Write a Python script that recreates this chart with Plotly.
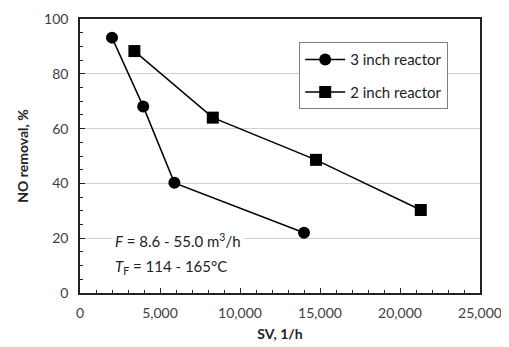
import plotly.graph_objects as go

sv_3inch = [2000, 3950, 5900, 14000]
no_3inch = [93.2, 68.1, 40.2, 22.0]
sv_2inch = [3400, 8300, 14750, 21300]
no_2inch = [88.3, 64.0, 48.6, 30.3]
x_ticks = [0, 5000, 10000, 15000, 20000, 25000]
x_ticklabels = ["0", "5,000", "10,000", "15,000", "20,000", "25,000"]
y_ticks = [0, 20, 40, 60, 80, 100]

FONT = "Lato, Open Sans, sans-serif"

fig = go.Figure()
fig.add_trace(go.Scatter(x=sv_3inch, y=no_3inch, mode="lines+markers", name="3 inch reactor",
                         legendgroup="a",
                         line=dict(color="black", width=1.5),
                         marker=dict(symbol="circle", size=12, color="black")))
fig.add_trace(go.Scatter(x=sv_2inch, y=no_2inch, mode="lines+markers", name="2 inch reactor",
                         legendgroup="b",
                         line=dict(color="black", width=1.5),
                         marker=dict(symbol="square", size=12, color="black")))

# page body has an 8px default margin, so the figure is sized to fit the window
fig.update_layout(
    width=501, height=339,
    margin=dict(l=72, r=29, t=11, b=54, autoexpand=False),
    paper_bgcolor="white", plot_bgcolor="white",
    font=dict(family=FONT, size=13, color="#404040"),
    showlegend=True,
    legend=dict(x=0.548, y=0.915, xanchor="left", yanchor="top",
                bgcolor="white", bordercolor="#808080", borderwidth=1,
                font=dict(family=FONT, size=15, color="#222222"),
                itemwidth=40, tracegroupgap=10),
    xaxis=dict(range=[0, 25000], tickvals=x_ticks, ticktext=x_ticklabels,
               showgrid=False, zeroline=False, automargin=False, ticklabeloverflow="allow",
               showline=True, linecolor="#222222", linewidth=1.5, mirror=True,
               ticks="inside", ticklen=5, tickcolor="#222222", ticklabelstandoff=6,
               minor=dict(dtick=1000, ticks="inside", ticklen=3, tickcolor="#222222", showgrid=False),
               title=dict(text="<b>SV, 1/h</b>", font=dict(family=FONT, size=14, color="#222222"), standoff=10),
               tickfont=dict(size=14, color="#404040")),
    yaxis=dict(range=[0, 100], tickvals=y_ticks,
               showgrid=True, gridcolor="#d0d0d0", gridwidth=1, zeroline=False, automargin=False,
               showline=True, linecolor="#222222", linewidth=1.5, mirror=True,
               ticks="inside", ticklen=5, tickcolor="#222222", ticklabelstandoff=7,
               minor=dict(dtick=5, ticks="inside", ticklen=3, tickcolor="#222222", showgrid=False),
               title=dict(text="<b>NO removal, %</b>", font=dict(family=FONT, size=14, color="#222222"), standoff=12),
               tickfont=dict(size=14, color="#404040")),
)

fig.add_annotation(xref="paper", yref="paper", x=0.08, y=0.19, xanchor="left", yanchor="middle",
                   text="<i>F</i> = 8.6 - 55.0 m<sup>3</sup>/h", showarrow=False,
                   font=dict(family=FONT, size=15, color="#222222"), bgcolor="white", borderpad=2)
fig.add_annotation(xref="paper", yref="paper", x=0.08, y=0.095, xanchor="left", yanchor="middle",
                   text="<i>T</i><sub>F</sub> = 114 - 165°C", showarrow=False,
                   font=dict(family=FONT, size=15, color="#222222"), bgcolor="white", borderpad=2)

fig.write_html("out.html")
